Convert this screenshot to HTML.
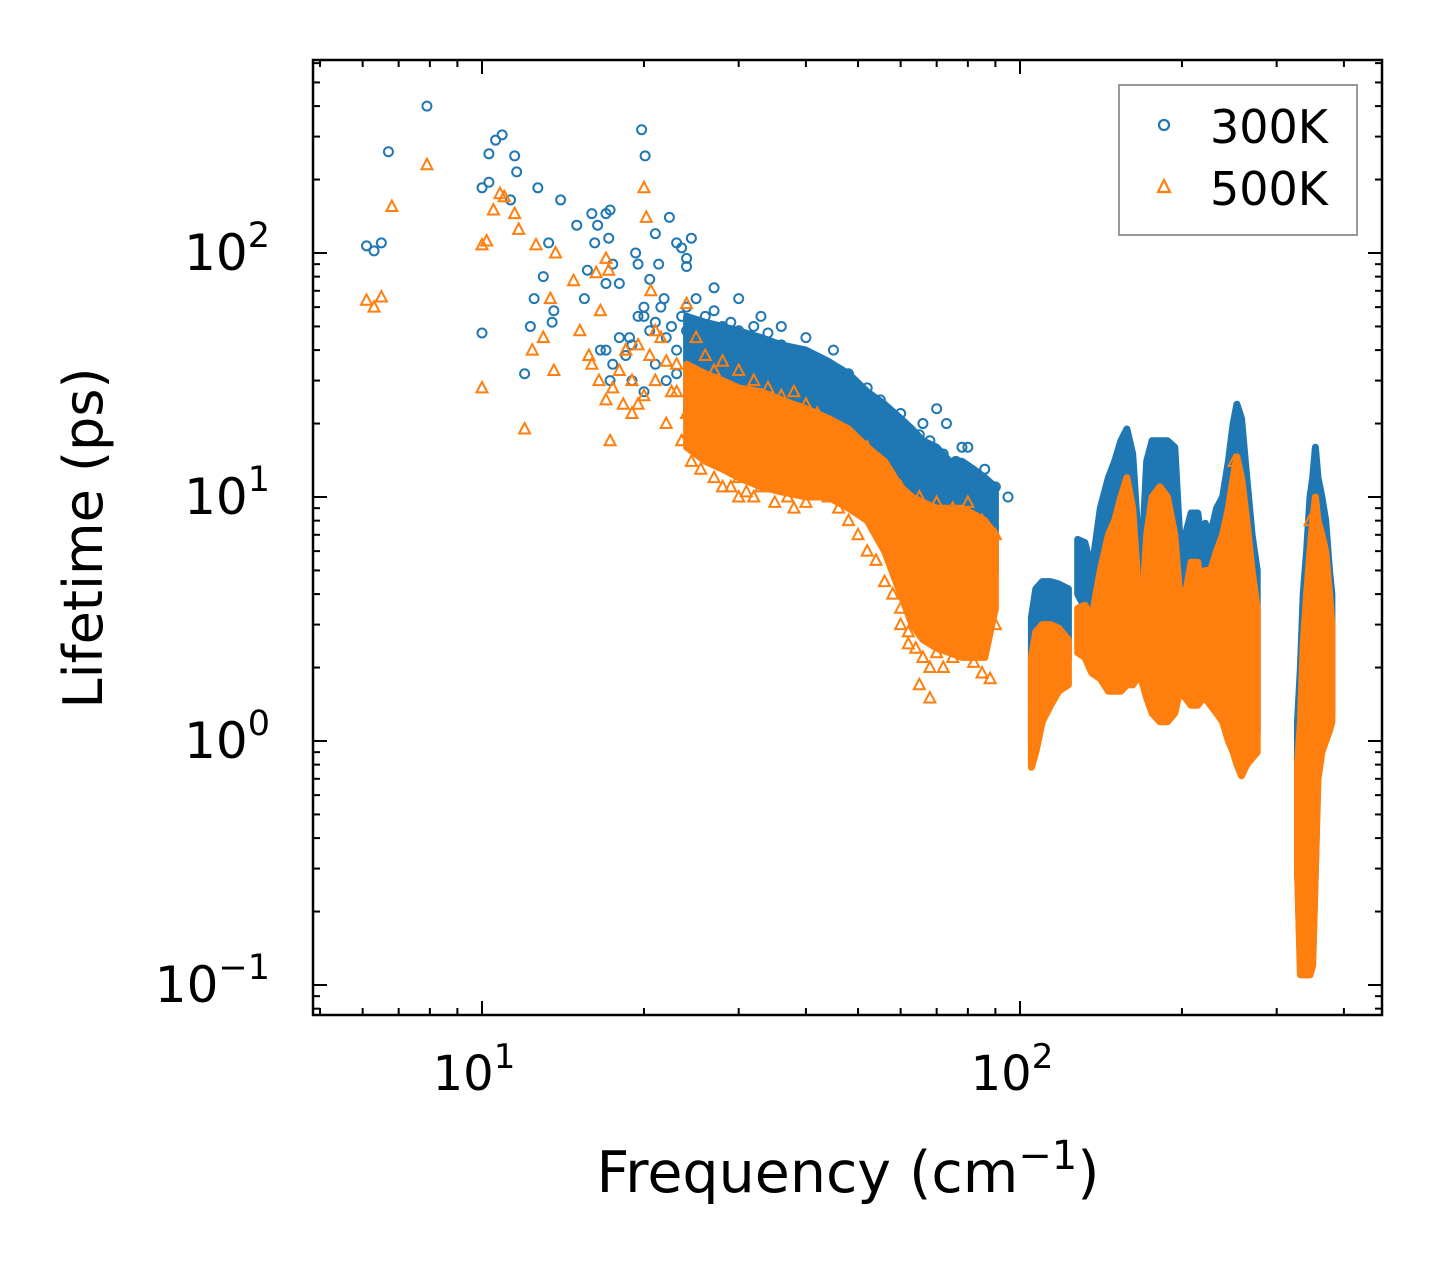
<!DOCTYPE html>
<html><head><meta charset="utf-8"><style>
html,body{margin:0;padding:0;background:#fff;}
svg text{font-family:"DejaVu Sans","Liberation Sans",sans-serif;fill:#000;}
</style></head><body>
<svg id="chart" width="1442" height="1265" viewBox="0 0 1442 1265" xmlns="http://www.w3.org/2000/svg">
<rect x="0" y="0" width="1442" height="1265" fill="#fff"/>
<g id="data-layer"></g>
<g id="axes"></g>
<text x="848" y="1192" font-size="57" text-anchor="middle">Frequency (cm<tspan font-size="40" dy="-23">−1</tspan><tspan dy="23">)</tspan></text>
<text transform="translate(102,538) rotate(-90)" font-size="54" text-anchor="middle">Lifetime (ps)</text>
<g>
<rect x="1119" y="85" width="238" height="150" fill="#fff" stroke="#999" stroke-width="2"/>
<circle cx="1164" cy="125" r="5" fill="none" stroke="#1f77b4" stroke-width="2.2"/>
<text x="1210" y="143" font-size="46">300K</text>
<polygon points="1164,180 1170,192 1158,192" fill="none" stroke="#ff7f0e" stroke-width="2.2"/>
<text x="1210" y="205" font-size="46">500K</text>
</g>
</svg>
<script>
// ---- data ----
const blueScatter=[[6.1,107],[6.3,102],[6.5,110],[6.7,260],[7.9,400],[10,47],[10,185],[10.3,255],[10.3,195],[10.6,290],[10.9,305],[11.3,165],[11.5,250],[11.6,215],[12,32],[12.3,50],[12.5,65],[12.7,185],[13,80],[13.3,110],[13.5,52],[13.6,58],[14,165],[15,130],[15.5,65],[15.7,85],[16,145],[16.2,110],[16.4,130],[16.6,40],[17,145],[17,75],[17.3,150],[17.5,90],[17.3,30],[17.2,115],[18,75],[18.8,45],[19.3,100],[19.5,90],[19.8,320],[20.1,250],[20,55],[20.5,78],[21,120],[21.3,90],[21.8,65],[22.3,140],[23,110],[23.5,105],[24,95],[24,88],[24.5,115],
[17,40],[17.5,35],[18,45],[18.5,38],[19,42],[19.5,55],[20,60],[20.5,48],[21,52],[21.5,60],[22,45],[22.5,50],[23,40],[23.5,55],[24,48],[21,35],[22,30],[19,30],[20,27],[23,32],[25,30],[26,28],[24,60],[25,65],[26,55],[27,58],[27,72],[28,50],[29,52],[30,48],[30,65],[31,45],[32,50],[33,55],[34,47],[36,42],[36,50],[38,40],[40,38],[40,45],[42,35],[44,33],[45,40],[46,32],[48,32],[50,28],[52,26],[52,28],[55,22],[55,25],[58,21],[60,22],[62,19],[65,18],[66,20],[68,17],[70,23],[72,15],[73,20],[76,14],[78,16],[80,16],[82,12],[85,11],[86,13],[90,11],[95,10]];
const orangeScatter=[[6.1,64],[6.3,60],[6.5,66],[6.8,155],[7.9,230],[10,28],[10,108],[10.2,112],[10.5,150],[10.8,175],[11,170],[11.5,145],[11.7,125],[12,19],[12.4,40],[12.6,108],[13,45],[13.4,65],[13.6,33],[13.7,100],[14.8,77],[15.2,48],[15.8,38],[16.3,83],[16.6,58],[17,95],[17.2,85],[17.3,17],[18.3,24],[18.5,40],[19,30],[19.5,42],[20,185],[20.2,140],[20.6,70],[21,48],[22,36],[23,27],[24,62],
[16,35],[16.5,30],[17,25],[17.5,28],[18,33],[18.5,40],[19,22],[19.5,24],[20,26],[20.5,38],[21,30],[21.5,45],[22,20],[22.5,27],[23,35],[23.5,17],[24,22],[24.5,14],[25,16],[25.5,13],[26,20],[26,16],[27,12],[28,14],[28,11],[29,11],[30,12],[30,10],[31,10.5],[32,10],[33,11],[35,9.5],[37,10],[38,9],[40,9.5],[42,11],[44,10],[46,9],[48,8],[50,7],[52,6],[54,5.5],[56,4.5],[58,4],[60,3.5],[60,3],[62,2.8],[62,2.5],[64,2.4],[65,1.7],[66,2.2],[68,2],[68,1.5],[70,2.3],[72,2],[75,2.2],[78,2.5],[82,2.1],[85,1.9],[88,1.8],[90,3],[25,45],[26,38],[27,33],[28,36],[30,33],[32,30],[34,28],[36,26],[38,27],[40,24],[42,22],[45,19],[48,17],[52,16],[55,14],[60,11],[65,10],[70,9.5],[75,9],[80,9.5],[85,8],[90,7],[250,14],[346,8]];
const blueBands=[
 {f:[24,26,28,30,33,36,40,44,48,52,56,60,63,66,70,74,78,82,86,90],lo:[22,20,18,16,15,14,13,12,11,10,9,8,7,6,5,4.5,4,4,4.5,5],hi:[55,52,50,48,45,42,40,36,32,27,24,21,19,17,16,14,14,13,12,11]},
 {f:[105,107,110,114,118,123],lo:[0.9,1.2,1.5,1.7,1.9,2.2],hi:[3.2,4.2,4.5,4.5,4.4,4.2]},
 {f:[128,132,136,141,146,150,154,158,162,165],lo:[4,3.5,2.8,2.5,2.4,2.2,2,1.8,1.7,2],hi:[6.7,6.5,5,9,12,14,17,19,15,8]},
 {f:[168,172,176,182,188,194,198,203,208,214,219],lo:[2,2.2,1.5,1.3,1.2,1.4,2,2,1.6,1.6,2],hi:[5,14,17,17,17,16,7,7,8.6,8.6,6]},
 {f:[221,226,232,238,244,249,253,258,264,270,276],lo:[1.6,1.5,1.4,1.3,1.2,1.1,1.0,1.0,1.0,1.0,1.1],hi:[7.8,7,9,10,14,20,24,21,12,7,5]},
 {f:[328,332,336,341,346,350,354,358,364,370,376,380],lo:[0.3,0.12,0.12,0.11,0.12,0.13,0.3,0.8,1.0,1.1,1.2,1.3],hi:[1.2,2,4,6,10,12,16,12,10,8,5,4]}];
const orangeBands=[
 {f:[24,26,28,30,33,36,40,44,48,52,56,60,63,66,70,74,78,82,86,90],lo:[16,14,13,12,11,10.5,10,10,9,8,6,4,3,2.6,2.4,2.3,2.2,2.2,2.2,3.5],hi:[35,32,30,28,27,25,23,21,19,16,14,11,10,9.5,9,9,9,8.5,8,7]},
 {f:[105,107,110,114,118,123],lo:[0.78,0.9,1.2,1.4,1.6,1.7],hi:[2.2,2.8,3.0,3.0,2.9,2.6]},
 {f:[128,132,136,141,146,150,154,158,162,165],lo:[2.3,2.2,1.9,1.8,1.6,1.6,1.6,1.7,1.7,1.8],hi:[3.5,3.6,3.2,5,7,8,10,12,9,5]},
 {f:[168,172,176,182,188,194,198,203,208,214,219],lo:[1.8,1.5,1.3,1.2,1.2,1.3,1.6,1.5,1.4,1.4,1.5],hi:[3,7,10,11,10,7,4,4,5.4,5.4,3.5]},
 {f:[221,226,232,238,244,249,253,258,264,270,276],lo:[1.5,1.4,1.3,1.2,1.0,0.9,0.8,0.72,0.8,0.85,0.9],hi:[5,5,6,7,9,12,14.6,12,8,5,3.5]},
 {f:[328,332,336,341,346,350,354,358,364,370,376,380],lo:[0.3,0.11,0.11,0.11,0.11,0.12,0.3,0.7,0.9,1.0,1.1,1.2],hi:[0.8,1.2,2.5,4,6,8,10,8,7,6,4,3]}];
const xMajorTicks=[10,100];
const yMajorTicks=[0.1,1,10,100];
const xTickExp=["1","2"];
const yTickExp=["−1","0","1","2"];

// ---- axes ----
const L=313,R=1382,T=60,B=1015;
const X=f=>482+538*(Math.log10(f)-1);
const Y=v=>253-244*(Math.log10(v)-2);
const NS="http://www.w3.org/2000/svg";
const dl=document.getElementById('data-layer');
const ax=document.getElementById('axes');
function mk(tag,attrs,parent){const e=document.createElementNS(NS,tag);for(const k in attrs)e.setAttribute(k,attrs[k]);parent.appendChild(e);return e;}

function drawBand(b,color,name){
  let pts=b.f.map((f,i)=>X(f).toFixed(1)+','+Y(b.hi[i]).toFixed(1));
  for(let i=b.f.length-1;i>=0;i--)pts.push(X(b.f[i]).toFixed(1)+','+Y(b.lo[i]).toFixed(1));
  const p=mk('polygon',{points:pts.join(' '),fill:color,stroke:color,'stroke-width':7,'stroke-linejoin':'round'},dl);
  
  
}
function circ(f,v){const c=mk('circle',{cx:X(f),cy:Y(v),r:4.5,fill:'none',stroke:'#1f77b4','stroke-width':2},dl);
  
  }
function tri(f,v){const x=X(f),y=Y(v);const t=mk('polygon',{points:`${x},${y-6} ${x+5.5},${y+4.5} ${x-5.5},${y+4.5}`,fill:'none',stroke:'#ff7f0e','stroke-width':2},dl);
  
  }

blueBands.forEach(b=>drawBand(b,'#1f77b4','cluster-300k'));
blueScatter.forEach(p=>circ(p[0],p[1]));
orangeBands.forEach(b=>drawBand(b,'#ff7f0e','cluster-500k'));
orangeScatter.forEach(p=>tri(p[0],p[1]));

// frame
const fr=mk('rect',{x:L,y:T,width:R-L,height:B-T,fill:'none',stroke:'#000','stroke-width':2.5},ax);


function tick(x1,y1,x2,y2){mk('line',{x1,y1,x2,y2,stroke:'#000','stroke-width':2},ax);}
for(let d=0;d<3;d++){for(let m=1;m<10;m++){const f=m*Math.pow(10,d);if(f<4.85||f>471)continue;const x=X(f);const len=(m===1)?14:7;tick(x,B,x,B-len);tick(x,T,x,T+len);}}
xMajorTicks.forEach((f,i)=>{const t=mk('text',{x:X(f)-8,y:1090,'font-size':48,'text-anchor':'middle'},ax);t.innerHTML='10<tspan font-size="34" dy="-22">'+xTickExp[i]+'</tspan>';
  
  });
for(let d=-2;d<3;d++){for(let m=1;m<10;m++){const v=m*Math.pow(10,d);const y=Y(v);if(y<T||y>B)continue;const len=(m===1)?14:7;tick(L,y,L+len,y);tick(R,y,R-len,y);}}
yMajorTicks.forEach((v,i)=>{const t=mk('text',{x:270,y:Y(v)+17,'font-size':50,'text-anchor':'end'},ax);t.innerHTML='10<tspan font-size="35" dy="-23">'+yTickExp[i]+'</tspan>';
  
  });
</script>
</body></html>
